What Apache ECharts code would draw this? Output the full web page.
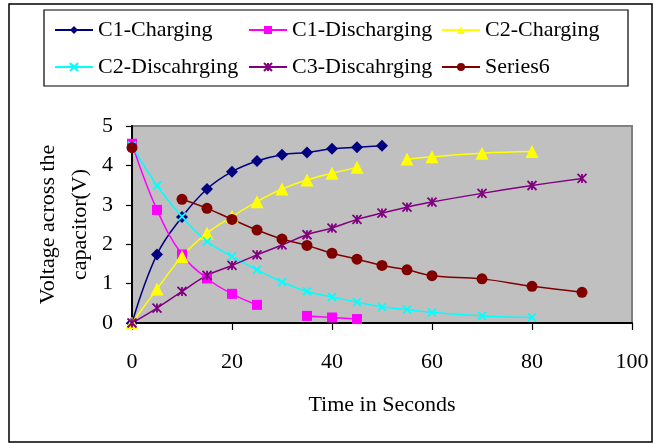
<!DOCTYPE html>
<html>
<head>
<meta charset="utf-8">
<script src="https://cdn.jsdelivr.net/npm/echarts@6/dist/echarts.min.js"></script>
<style>
html,body{margin:0;padding:0;background:#fff;}
#c{width:654px;height:444px;}
</style>
</head>
<body>
<div id="c"></div>
<script>
const seriesNames = ['C1-Charging','C1-Discharging','C2-Charging','C2-Discahrging','C3-Discahrging','Series6'];

const c1ChargeX = [0,5,10,15,20,25,30,35,40,45,50];
const c1ChargeY = [0,1.74,2.69,3.40,3.84,4.11,4.27,4.33,4.42,4.46,4.50];

const c1DisX = [0,5,10,15,20,25,30,35,40,45];
const c1DisY = [4.55,2.87,1.74,1.13,0.74,0.46,null,0.18,0.14,0.10];

const c2ChargeX = [0,5,10,15,20,25,30,35,40,45,50,55,60,70,80];
const c2ChargeY = [0,0.86,1.69,2.28,2.70,3.08,3.40,3.63,3.80,3.95,null,4.16,4.22,4.31,4.35];

const c2DisX = [0,5,10,15,20,25,30,35,40,45,50,55,60,70,80];
const c2DisY = [4.50,3.49,2.70,2.07,1.69,1.35,1.04,0.80,0.66,0.53,0.41,0.34,0.27,0.18,0.14];

const c3DisX = [0,5,10,15,20,25,30,35,40,45,50,55,60,70,80,90];
const c3DisY = [0,0.38,0.80,1.21,1.46,1.73,1.98,2.24,2.41,2.63,2.79,2.94,3.07,3.29,3.49,3.67];

const s6X = [0,5,10,15,20,25,30,35,40,45,50,55,60,70,80,90];
const s6Y = [4.45,null,3.14,2.91,2.63,2.36,2.13,1.97,1.77,1.62,1.46,1.35,1.20,1.12,0.93,0.78];

const xTicks = [0,20,40,60,80,100];
const yTicks = [0,1,2,3,4,5];

function pairs(xs, ys){ return xs.map((x,i)=>[x, ys[i]==null ? '-' : ys[i]]); }

const FONT = 'Liberation Serif';
const crossPath = 'path://M0,0L10,10M10,0L0,10';
const starPath = 'path://M5,0L5,10M0,0L10,10M10,0L0,10';

function mk(name, xs, ys, color, symbol, size, stroke){
  return {
    name: name, type: 'line', data: pairs(xs, ys),
    smooth: 0.4, connectNulls: false,
    symbol: symbol, symbolSize: size,
    lineStyle: {color: color, width: 1.5},
    itemStyle: stroke ? {color: color, borderColor: color, borderWidth: 1.8} : {color: color},
    emphasis: {disabled: true},
    z: 3
  };
}

const chart = echarts.init(document.getElementById('c'), null, {renderer:'canvas'});
const legendBase = {
  orient: 'vertical', itemWidth: 38, itemHeight: 10, itemGap: 13, top: 18, padding: 0,
  textStyle: {fontFamily: FONT, fontSize: 22, color: '#000', lineHeight: 24},
  selectedMode: false
};
chart.setOption({
  animation: false,
  backgroundColor: '#fff',
  graphic: [
    {type:'rect', shape:{x:9, y:4, width:643, height:438}, style:{fill:'none', stroke:'#000', lineWidth:1.5}, z: 0},
    {type:'rect', shape:{x:44, y:10, width:584, height:76}, style:{fill:'none', stroke:'#000', lineWidth:1.2}, z: 0}
  ],
  legend: [
    Object.assign({}, legendBase, {left: 54, data: [seriesNames[0], seriesNames[3]]}),
    Object.assign({}, legendBase, {left: 248, data: [seriesNames[1], seriesNames[4]]}),
    Object.assign({}, legendBase, {left: 441, data: [seriesNames[2], seriesNames[5]]})
  ],
  grid: {left: 132, right: 22, top: 126, bottom: 121, show: true, backgroundColor: '#C0C0C0', borderColor: '#808080', borderWidth: 2},
  xAxis: {
    type: 'value', min: xTicks[0], max: xTicks[xTicks.length-1], interval: 20,
    name: 'Time in Seconds', nameLocation: 'middle', nameGap: 71,
    nameTextStyle: {fontFamily: FONT, fontSize: 22, color: '#000'},
    axisLine: {show: true, lineStyle: {color: '#000', width: 2}},
    axisTick: {show: true, length: 7, lineStyle: {color: '#000', width: 1.2}},
    axisLabel: {fontFamily: FONT, fontSize: 22, color: '#000', margin: 28},
    splitLine: {show: false}
  },
  yAxis: {
    type: 'value', min: yTicks[0], max: yTicks[yTicks.length-1], interval: 1,
    name: 'Voltage across the\ncapacitor(V)', nameLocation: 'middle', nameGap: 36, nameRotate: 90,
    nameMoveOverlap: false,
    nameTextStyle: {fontFamily: FONT, fontSize: 22, color: '#000', lineHeight: 32, align: 'center'},
    axisLine: {show: true, lineStyle: {color: '#000', width: 2}},
    axisTick: {show: true, length: 6, lineStyle: {color: '#000', width: 1.2}},
    axisLabel: {fontFamily: FONT, fontSize: 22, color: '#000', margin: 19},
    splitLine: {show: false}
  },
  series: [
    mk(seriesNames[0], c1ChargeX, c1ChargeY, '#000080', 'diamond', 12, false),
    mk(seriesNames[1], c1DisX, c1DisY, '#FF00FF', 'rect', 10, false),
    mk(seriesNames[2], c2ChargeX, c2ChargeY, '#FFFF00', 'triangle', 13, false),
    mk(seriesNames[3], c2DisX, c2DisY, '#00FFFF', crossPath, 8, true),
    mk(seriesNames[4], c3DisX, c3DisY, '#800080', starPath, 9, true),
    mk(seriesNames[5], s6X, s6Y, '#800000', 'circle', 11, false)
  ]
});
</script>
</body>
</html>
